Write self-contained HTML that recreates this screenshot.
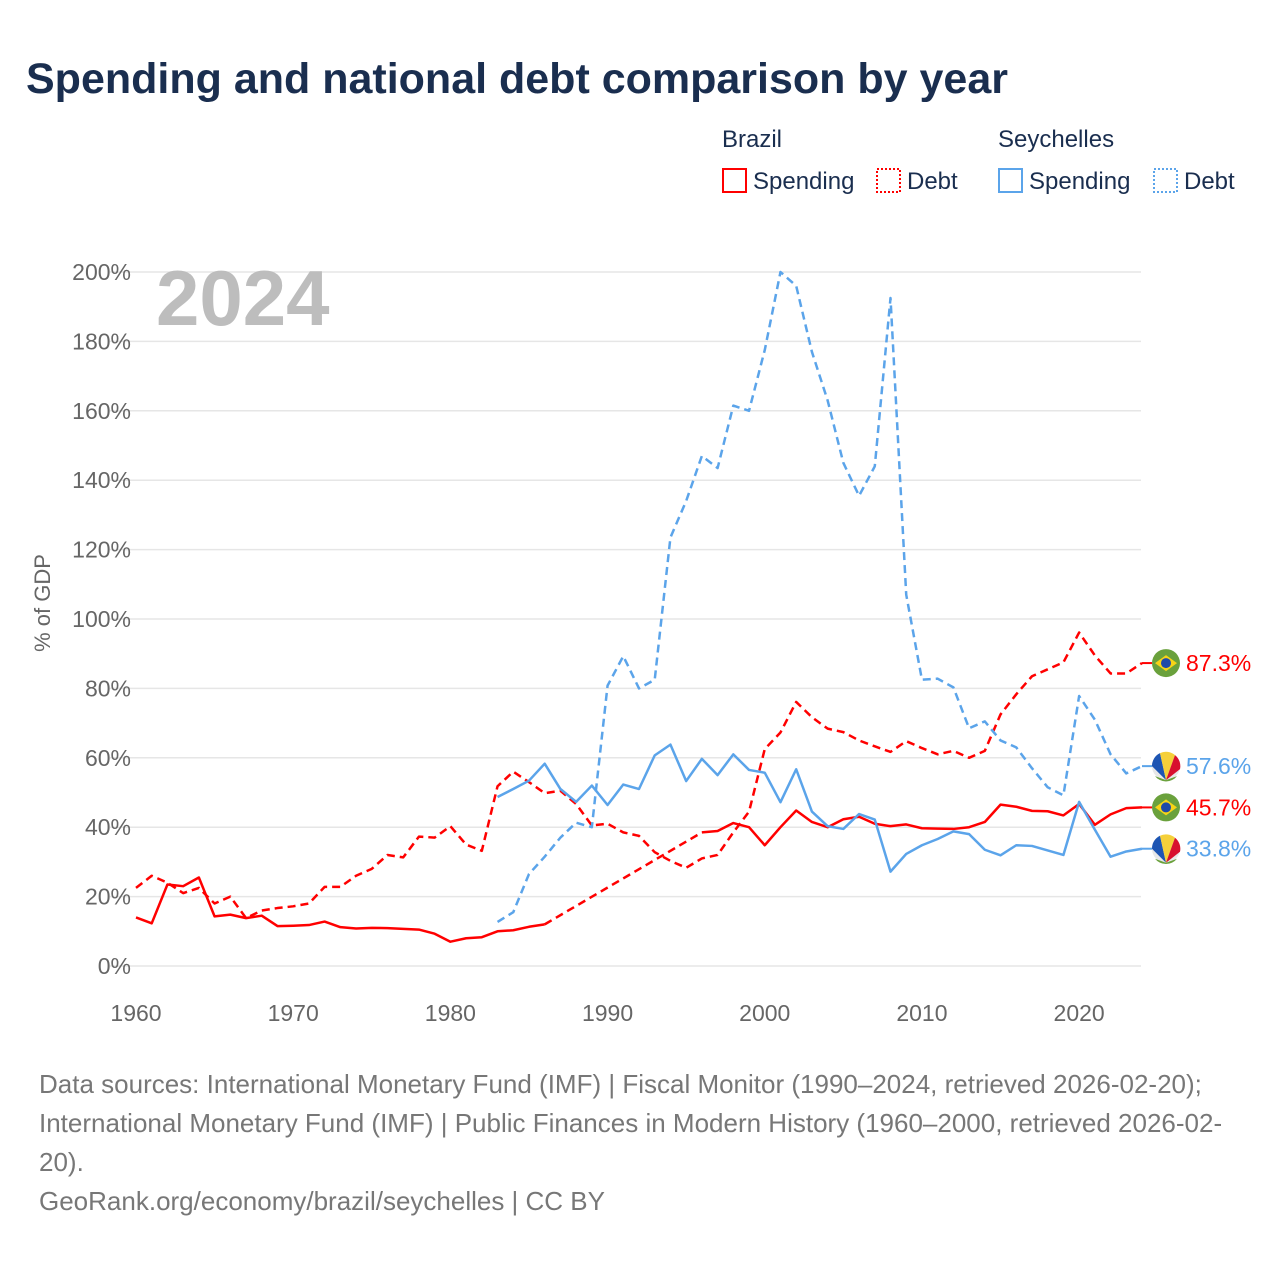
<!DOCTYPE html>
<html><head><meta charset="utf-8"><style>
body{margin:0;background:#fff;font-family:"Liberation Sans",sans-serif;}
svg text{font-family:"Liberation Sans",sans-serif;}
</style></head><body>
<svg id="chart" width="1280" height="1280" viewBox="0 0 1280 1280" xmlns="http://www.w3.org/2000/svg">
<text x="26" y="93" font-size="43" font-weight="bold" fill="#1a2e4f">Spending and national debt comparison by year</text>
<g>
<text x="722" y="147" font-size="24" fill="#1a2e4f">Brazil</text>
<text x="998" y="147" font-size="24" fill="#1a2e4f">Seychelles</text>
<g><rect x="723" y="169" width="23" height="23" fill="none" stroke="#f00" stroke-width="2"/><text x="753" y="189" font-size="24" fill="#1a2e4f">Spending</text></g>
<g><rect x="877" y="169" width="23" height="23" fill="none" stroke="#f00" stroke-width="2" stroke-dasharray="2,2"/><text x="907" y="189" font-size="24" fill="#1a2e4f">Debt</text></g>
<g><rect x="999" y="169" width="23" height="23" fill="none" stroke="#5ba4ea" stroke-width="2"/><text x="1029" y="189" font-size="24" fill="#1a2e4f">Spending</text></g>
<g><rect x="1154" y="169" width="23" height="23" fill="none" stroke="#5ba4ea" stroke-width="2" stroke-dasharray="2,2"/><text x="1184" y="189" font-size="24" fill="#1a2e4f">Debt</text></g>
</g>
<g id="grid"></g>
<text x="156" y="325" font-size="78" font-weight="bold" fill="#bdbdbd">2024</text>
<text transform="translate(50,603) rotate(-90)" text-anchor="middle" font-size="22" fill="#666">% of GDP</text>
<g id="series"></g>
<g id="endlabels"></g>
<g font-size="26" fill="#777">
<text x="39" y="1093">Data sources: International Monetary Fund (IMF) | Fiscal Monitor (1990–2024, retrieved 2026-02-20);</text>
<text x="39" y="1132">International Monetary Fund (IMF) | Public Finances in Modern History (1960–2000, retrieved 2026-02-</text>
<text x="39" y="1171">20).</text>
<text x="39" y="1210">GeoRank.org/economy/brazil/seychelles | CC BY</text>
</g>
</svg>
<script>
const years=[];for(let y=1960;y<=2024;y++)years.push(y);
const yTicks=[0,20,40,60,80,100,120,140,160,180,200];
const xTicks=[1960,1970,1980,1990,2000,2010,2020];
const brSpending=[14,12.3,23.5,23,25.5,14.3,14.8,13.8,14.5,11.5,11.6,11.8,12.8,11.2,10.8,11,10.9,10.7,10.5,9.3,7,8,8.3,10,10.3,11.3,12,null,null,null,null,null,null,null,null,null,38.5,38.9,41.2,40,34.8,40,44.8,41.5,40,42.3,43,41,40.3,40.8,39.7,39.6,39.5,40,41.5,46.5,45.9,44.7,44.6,43.4,46.7,40.7,43.7,45.5,45.7];
const brDebt=[22.5,26,24,21,22.5,18,20,13.8,16,16.7,17.2,18,22.8,22.8,26,28,32,31.3,37.3,37,40.3,35,33.2,51.8,56,53,49.8,50.5,46.7,40.5,41,38.5,37.5,32.8,30.3,28.3,31,32,38.5,44.5,62.5,67.3,76.1,71.7,68.4,67.4,65,63.3,61.7,64.8,62.8,61,62,60,62,72.5,78.3,83.5,85.5,87.5,96.1,89.5,84.3,84.3,87.3];
const scSpending=[null,null,null,null,null,null,null,null,null,null,null,null,null,null,null,null,null,null,null,null,null,null,null,48.7,51,53.4,58.3,51,47.3,52,46.4,52.3,51,60.7,63.8,53.3,59.7,55,61,56.5,55.7,47.2,56.7,44.5,40.3,39.5,43.8,42.2,27.2,32.3,34.8,36.6,38.8,38,33.5,31.9,34.8,34.6,33.3,32,47.3,39.3,31.5,33,33.8];
const scDebt=[null,null,null,null,null,null,null,null,null,null,null,null,null,null,null,null,null,null,null,null,null,null,null,12.7,15.5,26.5,31.5,37,41.3,40,80.8,89.3,80,82.5,123.5,134,147,143.5,161.5,160,177.5,200,196,177,163,145,135.5,144,192.5,107,82.5,82.8,80.3,68.5,70.5,65,63,57,51.5,49.2,77.8,71,61,55.5,57.6];
const NS="http://www.w3.org/2000/svg";
const X=y=>136+(y-1960)*(1142-136)/64;
const Y=v=>966-v*(966-272)/200;
function mk(t,a,p){const e=document.createElementNS(NS,t);for(const k in a)e.setAttribute(k,a[k]);p.appendChild(e);return e;}
const grid=document.getElementById('grid');
yTicks.forEach(t=>{
 const l=mk('line',{x1:110,x2:1141,y1:Y(t),y2:Y(t),stroke:'#e6e6e6','stroke-width':1.5},grid);
 
 
 const tx=mk('text',{x:131,y:Y(t)+8,'text-anchor':'end','font-size':23,fill:'#666'},grid);tx.textContent=t+'%';
 
 
});
xTicks.forEach(t=>{
 const tx=mk('text',{x:X(t),y:1021,'text-anchor':'middle','font-size':23,fill:'#666'},grid);tx.textContent=t;
 
 
});
const S=document.getElementById('series');
function draw(vals,color,dash,name){
 const g=mk('g',{},S);
 
 
 let segs=[],cur=[];
 vals.forEach((v,i)=>{if(v==null){if(cur.length)segs.push(cur);cur=[];}else cur.push([X(years[i]),Y(v)]);});
 if(cur.length)segs.push(cur);
 segs.forEach((s,k)=>{
  if(k>0){const p=segs[k-1][segs[k-1].length-1];mk('line',{x1:p[0],y1:p[1],x2:s[0][0],y2:s[0][1],stroke:color,'stroke-width':2.5,'stroke-dasharray':'8,5',fill:'none'},g);}
  const a={points:s.map(p=>p.join(',')).join(' '),fill:'none',stroke:color,'stroke-width':2.5,'stroke-linejoin':'round'};
  if(dash)a['stroke-dasharray']=dash;
  mk('polyline',a,g);
 });
}
draw(brSpending,'#ff0000',null,'brazil-spending-line');
draw(brDebt,'#ff0000','8,5','brazil-debt-line');
draw(scSpending,'#5ba4ea',null,'seychelles-spending-line');
draw(scDebt,'#5ba4ea','8,5','seychelles-debt-line');
const E=document.getElementById('endlabels');
function endLabel(v,color,flag,name){
 const y=Y(v);
 const g=mk('g',{},E);
 
 
 mk('line',{x1:1142,x2:1152,y1:y,y2:y,stroke:color,'stroke-width':2},g);
 if(flag==='br'){
  mk('circle',{cx:1166,cy:y,r:14,fill:'#6aa13c'},g);
  mk('polygon',{points:`1155,${y} 1166,${y-8} 1177,${y} 1166,${y+8}`,fill:'#f7d417'},g);
  mk('circle',{cx:1166,cy:y,r:5,fill:'#1f4aa8'},g);
 }else{
  mk('circle',{cx:1166,cy:y,r:14,fill:'#e8e8e8'},g);
  mk('path',{d:`M1166,${y+14} L1152,${y} A14,14 0 0 1 1160,${y-13} Z`,fill:'#1d55b3'},g);
  mk('path',{d:`M1166,${y+14} L1160,${y-13} A14,14 0 0 1 1175,${y-11} Z`,fill:'#f5d03a'},g);
  mk('path',{d:`M1166,${y+14} L1175,${y-11} A14,14 0 0 1 1180,${y+3} Z`,fill:'#d8102e'},g);
  mk('path',{d:`M1155,${y+10} A14,14 0 0 0 1177,${y+10} L1166,${y+14} Z`,fill:'#6aa13c'},g);
 }
 const t=mk('text',{x:1186,y:y+8,'font-size':23,fill:color},g);t.textContent=v.toFixed(1)+'%';
}
endLabel(brDebt[64],'#ff0000','br','brazil-debt-end-label');
endLabel(scDebt[64],'#5ba4ea','sc','seychelles-debt-end-label');
endLabel(brSpending[64],'#ff0000','br','brazil-spending-end-label');
endLabel(scSpending[64],'#5ba4ea','sc','seychelles-spending-end-label');
</script>
</body></html>
